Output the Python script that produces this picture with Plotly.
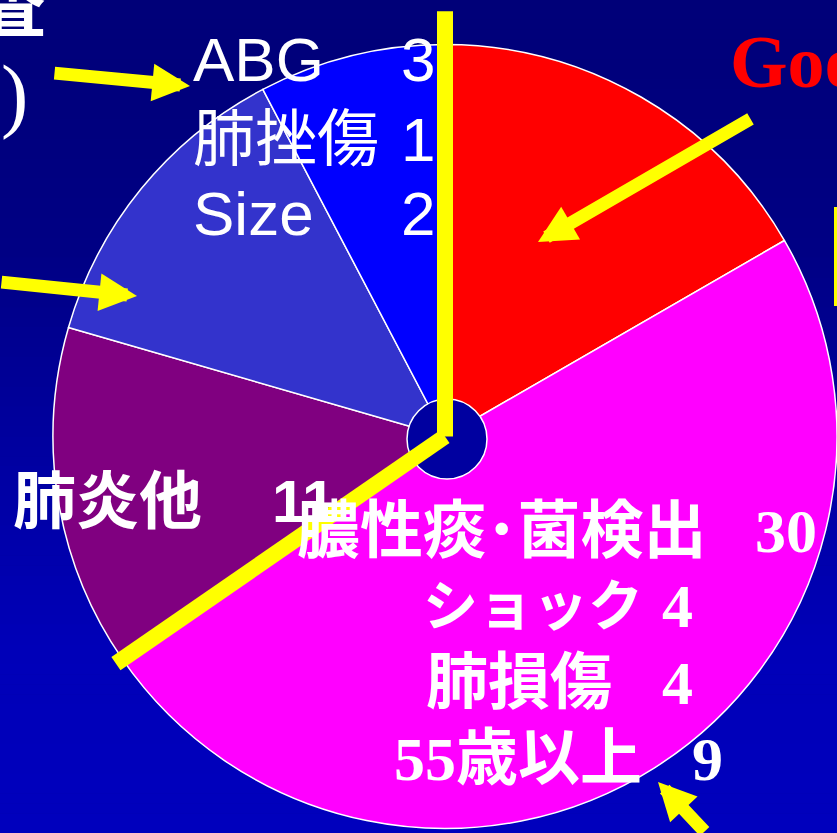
import math
import plotly.graph_objects as go

# ---- data -------------------------------------------------------------
slice_names = ["Good", "膿性痰・菌検出 他", "肺炎他", "その他", "ABG・肺挫傷・Size"]
slice_values = [13, 38, 11, 10, 6]
slice_colors = ["#FF0000", "#FF00FF", "#800080", "#3333CC", "#0000FF"]

blue_items = ["ABG", "肺挫傷", "Size"]
blue_counts = [3, 1, 2]

purple_item = "肺炎他"
purple_count = 11

magenta_items = ["膿性痰･菌検出", "ショック", "肺損傷", "55歳以上"]
magenta_counts = [30, 4, 4, 9]

# ---- canvas helpers -----------------------------------------------------
W, H = 837, 833


def X(px):
    return px / W


def Y(py):
    return 1 - py / H


SANS = "Liberation Sans, Arial, Noto Sans CJK JP"
SERIF = "Liberation Serif, Times New Roman, Noto Sans CJK JP"
CJK = "Noto Sans CJK JP"

# pie geometry (pixels)
CX, CY, R = 445.0, 436.5, 392.0

fig = go.Figure()

fig.add_trace(go.Pie(
    labels=slice_names,
    values=slice_values,
    marker=dict(colors=slice_colors, line=dict(color="white", width=1.5)),
    sort=False,
    direction="clockwise",
    rotation=0,
    textinfo="none",
    hoverinfo="skip",
    showlegend=False,
    domain=dict(x=[X(CX - R), min(1.0, X(CX + R))],
                y=[Y(CY + R), Y(CY - R)]),
))

shapes = []

# vertical background gradient, navy at the top to a brighter blue below
stops = [(0, 0x78), (250, 0x84), (450, 0xA0), (650, 0xB8), (833, 0xBD)]


def blue_at(py):
    for (y0, c0), (y1, c1) in zip(stops[:-1], stops[1:]):
        if y0 <= py <= y1:
            return c0 + (c1 - c0) * (py - y0) / (y1 - y0)
    return stops[-1][1]


bands = 84
for i in range(bands):
    y0 = H * i / bands
    y1 = H * (i + 1) / bands
    b = int(round(blue_at((y0 + y1) / 2)))
    shapes.append(dict(type="rect", xref="paper", yref="paper",
                       x0=0, x1=1, y0=Y(y1 + 0.5), y1=Y(y0),
                       fillcolor=f"rgb(0,0,{b})", line=dict(width=0),
                       layer="below"))

# centre disc
HR = 40
HX, HY = 447, 439
shapes.append(dict(type="circle", xref="paper", yref="paper",
                   x0=X(HX - HR), x1=X(HX + HR), y0=Y(HY + HR), y1=Y(HY - HR),
                   fillcolor="#0000A0", line=dict(color="white", width=1.5),
                   layer="above"))

# yellow dividers along the slice boundaries at 12 o'clock and after slice 2
total = sum(slice_values)
cut_angles = [0.0, 2 * math.pi * (slice_values[0] + slice_values[1]) / total]
reach = [1.085, 1.02]
for ang, k in zip(cut_angles, reach):
    ex = CX + k * R * math.sin(ang)
    ey = CY - k * R * math.cos(ang)
    shapes.append(dict(type="line", xref="paper", yref="paper",
                       x0=X(CX), y0=Y(CY), x1=X(ex), y1=Y(ey),
                       line=dict(color="#FFFF00", width=16), layer="above"))

# yellow edge at right
shapes.append(dict(type="rect", xref="paper", yref="paper",
                   x0=X(834), x1=X(850), y0=Y(306), y1=Y(207),
                   fillcolor="#FFFF00", line=dict(width=0), layer="above"))

annotations = []


def text(t, px, py, size, family, color="white", bold=False, xanchor="left"):
    annotations.append(dict(
        text=t, x=X(px), y=Y(py), xref="paper", yref="paper",
        xanchor=xanchor, yanchor="middle", showarrow=False,
        borderpad=0, borderwidth=0,
        font=dict(size=size, family=family, color=color,
                  weight="bold" if bold else "normal"),
    ))


# blue slice breakdown
for item, cnt, cy in zip(blue_items, blue_counts, [60, 139, 213]):
    text(item, 193, cy, 62, SANS)
    text(str(cnt), 435, cy, 62, SANS, xanchor="right")

# purple slice
text(purple_item, 13, 501, 63, SANS, bold=True)
text(str(purple_count), 272, 501, 60, SANS, bold=True)

# magenta slice breakdown
mag_label_x = [297, 423, 426, 394]
mag_label_size = [63, 55, 62, 62]
mag_count_x = [755, 662, 662, 692]
mag_y = [531, 606, 683, 759]
for item, cnt, lx, ls, nx, cy in zip(magenta_items, magenta_counts,
                                     mag_label_x, mag_label_size,
                                     mag_count_x, mag_y):
    text(item, lx, cy, ls, SERIF, bold=True)
    text(str(cnt), nx, cy, 62, SERIF, bold=True)

# headings running off the edges
text("Good", 730, 62, 74, SERIF, color="#FF0000", bold=True)
text("査", -20, 2, 66, CJK, bold=True)
text(")", 1, 95, 82, SERIF)

# yellow arrows: (tip x, tip y, tail dx, tail dy)
arrows = [(190, 86, -137, -13),
          (137, 296, -147, -14),
          (538, 242, 214, -124),
          (658, 782, 48, 80)]
for tx, ty, dx, dy in arrows:
    annotations.append(dict(
        text="", x=X(tx), y=Y(ty), xref="paper", yref="paper",
        ax=dx, ay=dy, showarrow=True, arrowhead=2, arrowsize=0.58,
        arrowwidth=13, arrowcolor="#FFFF00", standoff=0, startstandoff=0,
    ))

fig.update_layout(
    width=W, height=H,
    margin=dict(l=0, r=0, t=0, b=0),
    paper_bgcolor="#000090",
    plot_bgcolor="rgba(0,0,0,0)",
    shapes=shapes,
    annotations=annotations,
    showlegend=False,
)

fig.write_html("out.html", config={"displayModeBar": False})
